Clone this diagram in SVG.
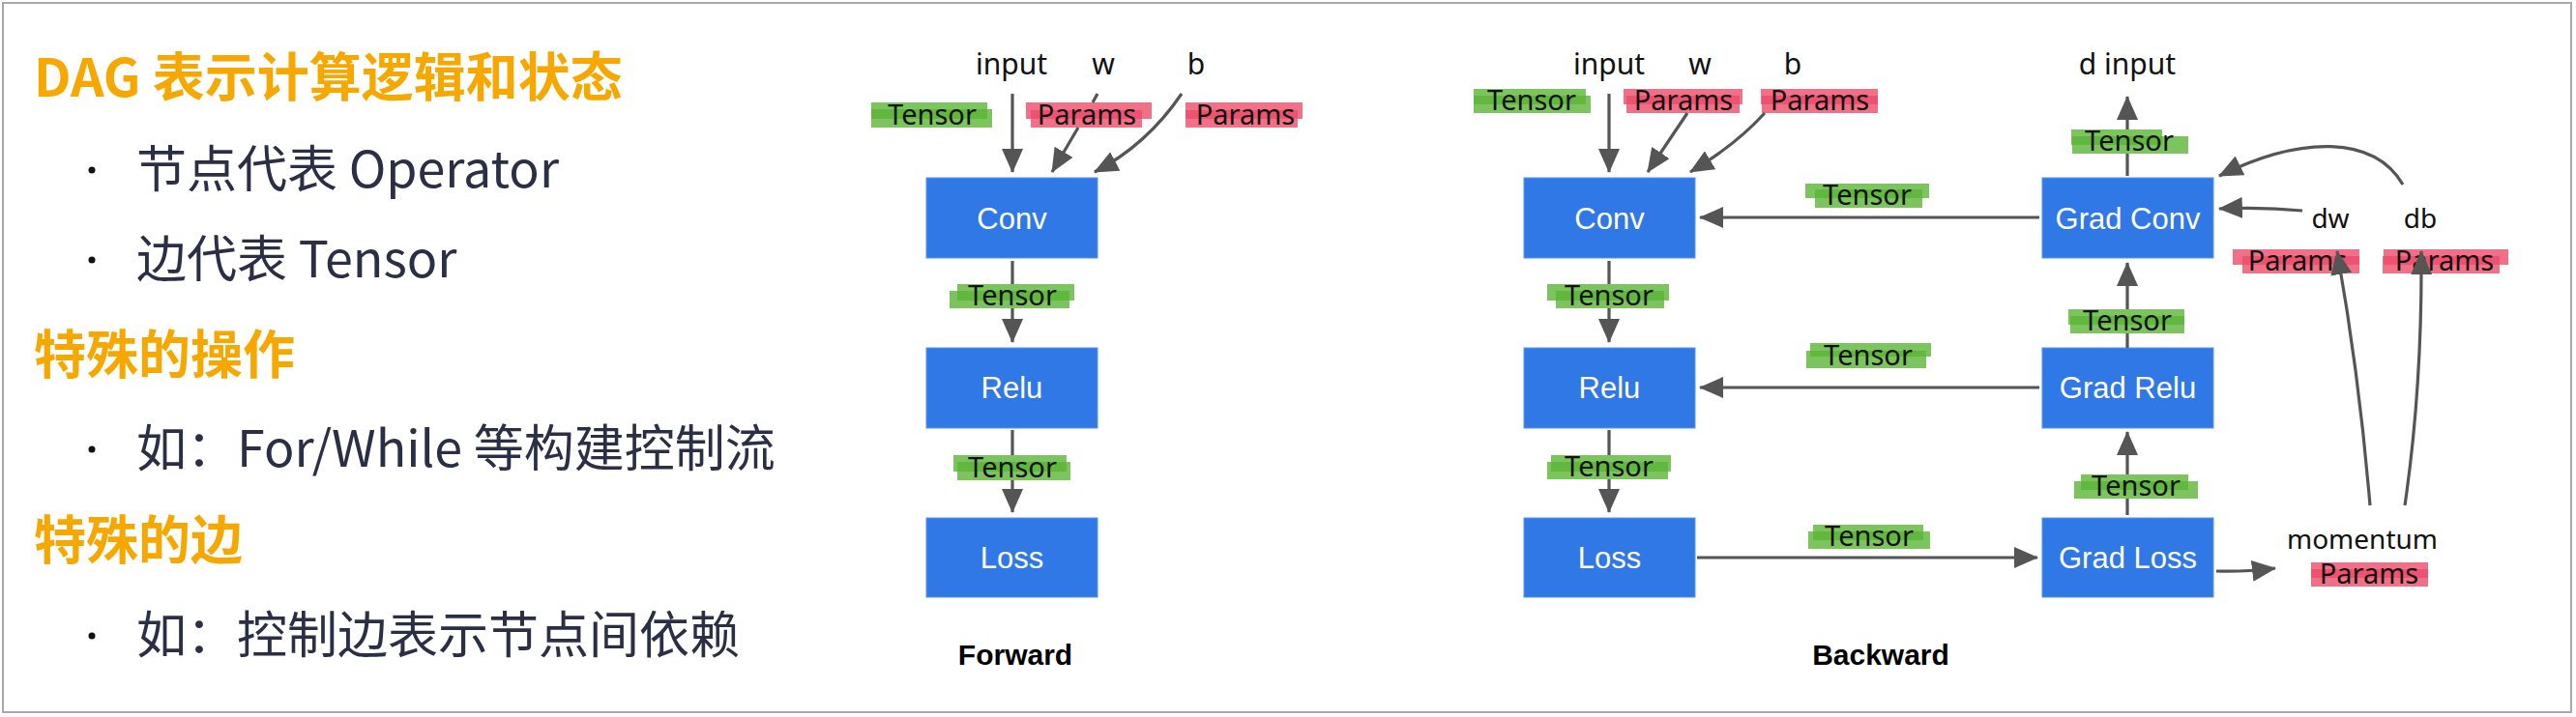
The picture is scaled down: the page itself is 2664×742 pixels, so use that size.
<svg xmlns="http://www.w3.org/2000/svg" width="2664" height="742" viewBox="0 0 2664 742">
<style>
.frame{fill:#fff;stroke:#a8a8a8;stroke-width:2}
.h{font-family:"Noto Sans CJK SC","Noto Sans",sans-serif;font-weight:700;font-size:54px;fill:#F6A800}
.t{font-family:"Noto Sans CJK SC","Noto Sans",sans-serif;font-size:52px;fill:#2A2F45}
.dot{fill:#111}
.box{fill:#2F78E6;stroke:#5A93EE;stroke-width:1}
.bt{font-family:"Liberation Sans",Arial,sans-serif;font-size:31px;fill:#fff;text-anchor:middle}
.g{fill:#5BB536;fill-opacity:0.8}
.p{fill:#EC4C6A;fill-opacity:0.8}
.lt{font-family:"Noto Sans",sans-serif;font-size:29px;fill:#111;text-anchor:middle}
.nt{font-family:"Noto Sans",sans-serif;font-size:30px;fill:#111;text-anchor:middle}
.title{font-family:"Liberation Sans",Arial,sans-serif;font-weight:700;font-size:30px;fill:#000;text-anchor:middle}
.c{fill:none;stroke:#555;stroke-width:3.2;marker-end:url(#ah)}
</style>
<defs>
<marker id="ah" viewBox="0 0 25 22" refX="24" refY="11" markerWidth="25" markerHeight="22" markerUnits="userSpaceOnUse" orient="auto">
<path d="M0,0 L25,11 L0,22 z" fill="#555"/>
</marker>
</defs>
<rect class="frame" x="3" y="3" width="2656" height="734"/>

<g id="left-text">
<text class="h" x="35" y="100">DAG 表示计算逻辑和状态</text>
<circle class="dot" cx="95" cy="176" r="3.5"/>
<text class="t" x="141" y="194">节点代表 Operator</text>
<circle class="dot" cx="95" cy="269" r="3.5"/>
<text class="t" x="141" y="287">边代表 Tensor</text>
<text class="h" x="35" y="387">特殊的操作</text>
<circle class="dot" cx="95" cy="465" r="3.5"/>
<text class="t" x="141" y="483">如：For/While 等构建控制流</text>
<text class="h" x="35" y="579">特殊的边</text>
<circle class="dot" cx="95" cy="658" r="3.5"/>
<text class="t" x="141" y="676">如：控制边表示节点间依赖</text>
</g>

<g id="titles">
<text class="title" x="1050" y="688">Forward</text>
<text class="title" x="1945" y="688">Backward</text>
</g>

<g id="f-inputs">
<text class="nt" x="1046" y="77">input</text>
<text class="nt" x="1141" y="77">w</text>
<text class="nt" x="1237" y="77">b</text>
</g>
<g id="b-inputs">
<text class="nt" x="1664" y="77">input</text>
<text class="nt" x="1758" y="77">w</text>
<text class="nt" x="1854" y="77">b</text>
</g>
<g id="d-input"><text class="nt" x="2200" y="77">d input</text></g>
<g id="dw"><text class="nt" x="2410" y="236" style="font-size:28px">dw</text></g>
<g id="db"><text class="nt" x="2503" y="236" style="font-size:28px">db</text></g>
<g id="momentum"><text class="nt" x="2443" y="568" style="font-size:28px">momentum</text></g>

<g id="f-conv"><rect class="box" x="958" y="184" width="177" height="83"/><text class="bt" x="1046.5" y="237">Conv</text></g>
<g id="f-relu"><rect class="box" x="958" y="360" width="177" height="83"/><text class="bt" x="1046.5" y="412">Relu</text></g>
<g id="f-loss"><rect class="box" x="958" y="536" width="177" height="82"/><text class="bt" x="1046.5" y="588">Loss</text></g>

<g id="b-conv"><rect class="box" x="1576" y="184" width="177" height="83"/><text class="bt" x="1664.5" y="237">Conv</text></g>
<g id="b-relu"><rect class="box" x="1576" y="360" width="177" height="83"/><text class="bt" x="1664.5" y="412">Relu</text></g>
<g id="b-loss"><rect class="box" x="1576" y="536" width="177" height="82"/><text class="bt" x="1664.5" y="588">Loss</text></g>

<g id="grad-conv"><rect class="box" x="2112" y="184" width="177" height="83"/><text class="bt" x="2200.5" y="237">Grad Conv</text></g>
<g id="grad-relu"><rect class="box" x="2112" y="360" width="177" height="83"/><text class="bt" x="2200.5" y="412">Grad Relu</text></g>
<g id="grad-loss"><rect class="box" x="2112" y="536" width="177" height="82"/><text class="bt" x="2200.5" y="588">Grad Loss</text></g>

<g id="labels">
<g id="lbl-f-input"><rect class="g" x="901" y="106" width="120" height="17"/><rect class="g" x="901" y="113" width="125" height="19"/><text class="lt" x="964" y="129">Tensor</text></g>
<g id="lbl-f-w"><rect class="p" x="1061" y="106" width="130" height="17"/><rect class="p" x="1066" y="114" width="115" height="18"/><text class="lt" x="1124" y="129">Params</text></g>
<g id="lbl-f-b"><rect class="p" x="1226" y="106" width="121" height="17"/><rect class="p" x="1226" y="114" width="116" height="18"/><text class="lt" x="1288" y="129">Params</text></g>
<g id="lbl-f-cr"><rect class="g" x="990" y="294" width="121" height="17"/><rect class="g" x="982" y="301" width="124" height="18"/><text class="lt" x="1047" y="316">Tensor</text></g>
<g id="lbl-f-rl"><rect class="g" x="986" y="471" width="117" height="17"/><rect class="g" x="990" y="478" width="117" height="19"/><text class="lt" x="1047" y="494">Tensor</text></g>

<g id="lbl-b-input"><rect class="g" x="1524" y="92" width="116" height="16"/><rect class="g" x="1524" y="99" width="121" height="18"/><text class="lt" x="1584" y="114">Tensor</text></g>
<g id="lbl-b-w"><rect class="p" x="1679" y="92" width="123" height="16"/><rect class="p" x="1682" y="99" width="117" height="18"/><text class="lt" x="1741" y="114">Params</text></g>
<g id="lbl-b-b"><rect class="p" x="1821" y="92" width="121" height="16"/><rect class="p" x="1822" y="99" width="120" height="18"/><text class="lt" x="1882" y="114">Params</text></g>
<g id="lbl-b-cr"><rect class="g" x="1600" y="294" width="126" height="17"/><rect class="g" x="1609" y="301" width="112" height="18"/><text class="lt" x="1664" y="316">Tensor</text></g>
<g id="lbl-b-rl"><rect class="g" x="1604" y="471" width="124" height="17"/><rect class="g" x="1600" y="478" width="125" height="18"/><text class="lt" x="1664" y="493">Tensor</text></g>
<g id="lbl-gc-c"><rect class="g" x="1867" y="190" width="128" height="15"/><rect class="g" x="1877" y="196" width="111" height="19"/><text class="lt" x="1931" y="212">Tensor</text></g>
<g id="lbl-gr-r"><rect class="g" x="1872" y="355" width="125" height="14"/><rect class="g" x="1868" y="363" width="124" height="18"/><text class="lt" x="1932" y="378">Tensor</text></g>
<g id="lbl-l-gl"><rect class="g" x="1875" y="543" width="114" height="16"/><rect class="g" x="1870" y="550" width="126" height="18"/><text class="lt" x="1933" y="565">Tensor</text></g>
<g id="lbl-gc-di"><rect class="g" x="2142" y="134" width="94" height="16"/><rect class="g" x="2143" y="141" width="120" height="18"/><text class="lt" x="2202" y="156">Tensor</text></g>
<g id="lbl-gr-gc"><rect class="g" x="2139" y="320" width="120" height="16"/><rect class="g" x="2141" y="327" width="118" height="18"/><text class="lt" x="2200" y="342">Tensor</text></g>
<g id="lbl-gl-gr"><rect class="g" x="2152" y="491" width="111" height="16"/><rect class="g" x="2145" y="498" width="128" height="18"/><text class="lt" x="2209" y="513">Tensor</text></g>
<g id="lbl-dw"><rect class="p" x="2309" y="258" width="131" height="16"/><rect class="p" x="2319" y="265" width="121" height="18"/><text class="lt" x="2376" y="280">Params</text></g>
<g id="lbl-db"><rect class="p" x="2465" y="258" width="129" height="16"/><rect class="p" x="2464" y="265" width="121" height="18"/><text class="lt" x="2528" y="280">Params</text></g>
<g id="lbl-mom"><rect class="p" x="2390" y="582" width="121" height="16"/><rect class="p" x="2390" y="589" width="121" height="18"/><text class="lt" x="2450" y="604">Params</text></g>
</g>

<g id="connectors">
<path class="c" d="M1047 97 L1047 178"/>
<path class="c" d="M1135 97 L1130 106 M1115 132 L1088 178"/>
<path class="c" d="M1222 97 Q1186 150 1132 178"/>
<path class="c" d="M1047 270 L1047 294 M1047 319 L1047 354"/>
<path class="c" d="M1047 445 L1047 471 M1047 497 L1047 530"/>

<path class="c" d="M1664 97 L1664 178"/>
<path class="c" d="M1745 117 L1704 178"/>
<path class="c" d="M1825 117 Q1795 150 1748 178"/>
<path class="c" d="M1664 270 L1664 294 M1664 319 L1664 354"/>
<path class="c" d="M1664 445 L1664 471 M1664 496 L1664 530"/>
<path class="c" d="M2109 225 L1758 225"/>
<path class="c" d="M2109 401 L1758 401"/>
<path class="c" d="M1755 577 L2107 577"/>

<path class="c" d="M2200 182 L2200 159 M2200 134 L2200 100"/>
<path class="c" d="M2200 360 L2200 345 M2200 320 L2200 272"/>
<path class="c" d="M2200 533 L2200 516 M2200 491 L2200 447"/>
<path class="c" d="M2292 591 Q2320 592 2353 588"/>
<path class="c" d="M2451 523 Q2440 390 2417 260"/>
<path class="c" d="M2487 523 Q2505 400 2504 260"/>
<path class="c" d="M2381 218 Q2340 214 2295 216"/>
<path class="c" d="M2485 191 C2455 140 2380 140 2295 182"/>
</g>
</svg>
